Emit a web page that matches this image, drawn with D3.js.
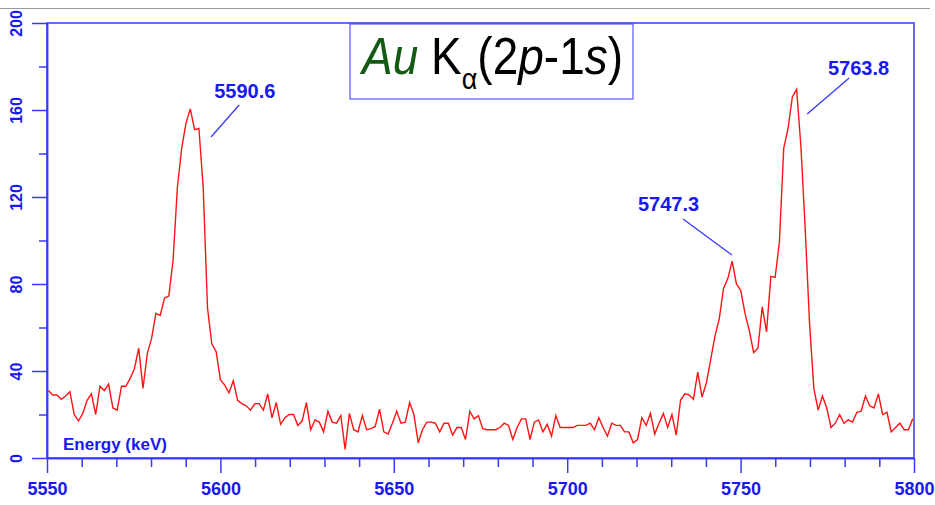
<!DOCTYPE html>
<html>
<head>
<meta charset="utf-8">
<script src="https://cdn.jsdelivr.net/npm/d3@7"></script>
<style>
body { margin: 0; background: #fff; }
text { font-family: "Liberation Sans", Arial, sans-serif; }
</style>
</head>
<body>
<script>
// counts per channel
var counts = [
  31, 29, 29, 27, 28.5, 30.5, 20, 17, 20.5, 26.5,
  29.5, 20, 33, 31, 34, 23, 22, 33, 33, 36.5,
  41, 50.5, 32, 48, 55, 66.5, 65.5, 73.5, 74.5, 91,
  124.5, 142.5, 154, 160.5, 151, 151.5, 124.5, 69, 52.5, 49,
  36, 33.5, 30, 35.5, 26.5, 25, 24, 22, 25, 25,
  22, 29.5, 18.5, 25.5, 15.5, 18.5, 20, 20, 15, 17,
  25.5, 13, 17.5, 16.5, 12, 21.5, 16.5, 16, 19.5, 4,
  20.5, 13, 12, 19.5, 13, 13.5, 14.5, 22.5, 12, 11,
  16, 21.5, 16, 16.5, 25.5, 20, 7, 13, 16.5, 16.5,
  16, 12, 16, 16, 10.5, 14, 14, 8.5, 21.5, 18,
  19.5, 13.5, 13, 13, 13, 14, 16, 15, 8.5, 14,
  18, 18, 8.5, 16.5, 17.5, 12, 15.5, 10, 19.5, 14,
  14, 14, 14, 15, 15, 15, 16, 13, 18.5, 14,
  10, 16, 15, 15, 12, 12, 7, 8.5, 18.5, 15,
  20.5, 11, 16, 20.5, 14, 20, 10.5, 26.5, 29.5, 29,
  27, 39.5, 28, 34.5, 45, 56, 64, 78, 82.5, 90.5,
  80, 77, 66.5, 58.5, 48.5, 50.5, 69.5, 58, 83.5, 83,
  99.5, 142.5, 151.5, 166, 169.5, 143, 105, 62, 32, 22,
  28.5, 23, 14, 16, 20, 16, 17.5, 16.5, 21, 21.5,
  28.5, 24, 23, 29.5, 20, 21, 12, 14, 16, 13,
  13, 18
];
var startEnergy = 5550.4;   // keV of first channel
var channelWidth = 1.24;    // keV per channel

var xTicks = [5550, 5600, 5650, 5700, 5750, 5800];
var xMinor = [5560, 5570, 5580, 5590, 5610, 5620, 5630, 5640, 5660, 5670, 5680, 5690,
              5710, 5720, 5730, 5740, 5760, 5770, 5780, 5790];
var yTicks = [0, 40, 80, 120, 160, 200];
var yMinor = [20, 60, 100, 140, 180];

var peakLabels = ["5590.6", "5747.3", "5763.8"];
// label anchors and leader lines, in keV / counts
var labelAt = [[5598.2, 165.4], [5720.4, 113.7], [5775.2, 176.1]];
var leaderFrom = [[5605.4, 162.3], [5733.4, 109.9], [5781.3, 174.7]];
var leaderTo = [[5597.3, 147.6], [5747.5, 93.3], [5769.2, 158.2]];

var blue = "#3838ff";
var textBlue = "#1818f0";

var svg = d3.select("body").append("svg")
            .attr("width", 935)
            .attr("height", 505);

var x = d3.scaleLinear().domain([5550, 5800]).range([47, 914]);
var y = d3.scaleLinear().domain([0, 200]).range([458, 23]);

// grey rule across the top
svg.append("line")
   .attr("x1", 0).attr("x2", 930)
   .attr("y1", 8.5).attr("y2", 8.5)
   .style("stroke", "#999")
   .style("stroke-width", 1);

// frame
svg.append("rect")
   .attr("x", x(5550)).attr("y", y(200))
   .attr("width", x(5800) - x(5550))
   .attr("height", y(0) - y(200))
   .style("fill", "none")
   .style("stroke", blue)
   .style("stroke-width", 1.5);

// x axis, major + minor ticks
var xAxis = svg.append("g")
   .attr("transform", "translate(0," + y(0) + ")")
   .call(d3.axisBottom(x).tickValues(xTicks).tickSize(15).tickSizeOuter(0)
           .tickPadding(9).tickFormat(d3.format("d")));
svg.append("g")
   .attr("transform", "translate(0," + y(0) + ")")
   .call(d3.axisBottom(x).tickValues(xMinor).tickSize(9).tickSizeOuter(0).tickFormat(""));

// y axis
var yAxis = svg.append("g")
   .attr("transform", "translate(" + x(5550) + ",0)")
   .call(d3.axisLeft(y).tickValues(yTicks).tickSize(15).tickSizeOuter(0));
svg.append("g")
   .attr("transform", "translate(" + x(5550) + ",0)")
   .call(d3.axisLeft(y).tickValues(yMinor).tickSize(8).tickSizeOuter(0).tickFormat(""));

svg.selectAll(".domain").style("stroke", blue).style("stroke-width", 1.5);
svg.selectAll(".tick line").style("stroke", blue).style("stroke-width", 1.5);

xAxis.selectAll("text")
     .style("font-size", "18px")
     .style("font-weight", "bold")
     .style("fill", textBlue);

yAxis.selectAll("text")
     .attr("x", null)
     .attr("dy", null)
     .attr("text-anchor", "middle")
     .attr("transform", "translate(-25.3,0) rotate(-90)")
     .style("font-size", "16px")
     .style("font-weight", "bold")
     .style("fill", textBlue);

svg.append("text")
   .attr("x", 63)
   .attr("y", 450)
   .text("Energy (keV)")
   .style("font-size", "17px")
   .style("font-weight", "bold")
   .style("fill", textBlue);

// spectrum
var line = d3.line()
   .x(function(d, i) { return x(startEnergy + i * channelWidth); })
   .y(function(d) { return y(d); });

svg.append("path")
   .datum(counts)
   .attr("d", line)
   .style("fill", "none")
   .style("stroke", "#ff1414")
   .style("stroke-width", 1.4);

// peak labels
peakLabels.forEach(function(lbl, i) {
  svg.append("line")
     .attr("x1", x(leaderFrom[i][0])).attr("y1", y(leaderFrom[i][1]))
     .attr("x2", x(leaderTo[i][0])).attr("y2", y(leaderTo[i][1]))
     .style("stroke", blue)
     .style("stroke-width", 1.3);
  svg.append("text")
     .attr("x", x(labelAt[i][0]))
     .attr("y", y(labelAt[i][1]))
     .text(lbl)
     .style("font-size", "20px")
     .style("font-weight", "bold")
     .style("fill", textBlue);
});

// title box
svg.append("rect")
   .attr("x", 350).attr("y", 24)
   .attr("width", 283).attr("height", 75)
   .style("fill", "#fff")
   .style("stroke", blue)
   .style("stroke-width", 1);

var title = svg.append("text")
   .attr("transform", "translate(362,74) scale(1,1.12)")
   .style("font-size", "46px")
   .style("fill", "#000");
title.append("tspan").text("Au").style("font-style", "italic").style("fill", "#145a14");
title.append("tspan").text(" K");
title.append("tspan").text("\u03b1").attr("dy", 13).style("font-size", "27px");
title.append("tspan").text("(2").attr("dy", -13);
title.append("tspan").text("p").style("font-style", "italic");
title.append("tspan").text("-1");
title.append("tspan").text("s").style("font-style", "italic");
title.append("tspan").text(")");
</script>
</body>
</html>
